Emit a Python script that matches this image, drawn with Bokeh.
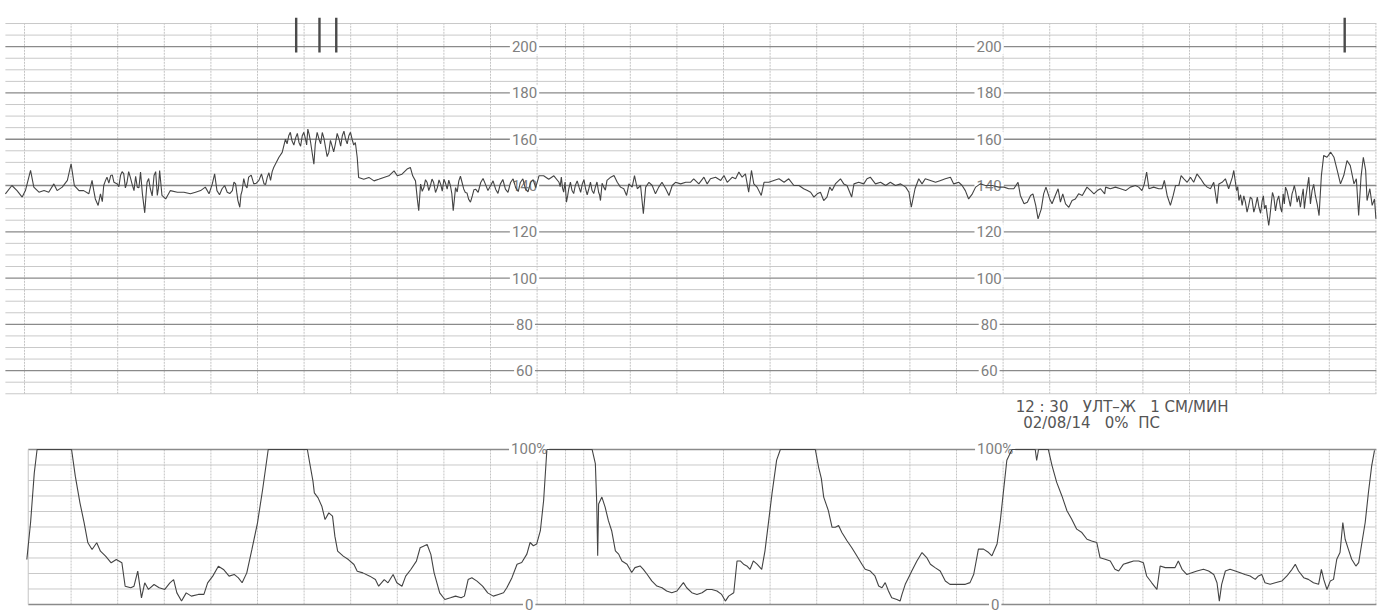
from bokeh.plotting import figure
from bokeh.layouts import column
from bokeh.models import Range1d, Label
from bokeh.core.properties import value
from bokeh.embed import file_html
from bokeh.resources import INLINE

# ---------------- data (time in minutes of paper, 1 cm/min) ----------------
fhr_min_a = [-0.41,-0.27,-0.16,-0.05,0.02,0.13,0.20,0.31,0.42,0.52,0.63,0.70,0.81,0.92,1.00,1.07,1.17,1.27,1.38,1.45,1.52,1.58,1.63,1.70,1.77,1.85,1.92,1.99,2.06,2.13,2.20,2.27,2.35,2.42,2.49,2.53,2.58,2.63,2.70,2.78,2.85,2.90,2.95,3.03,3.13,3.28,3.42,3.56,3.67,3.78,3.88,3.96,4.03,4.08,4.13,4.24,4.35,4.46,4.53,4.58,4.62,4.67,4.74,4.81,4.92,5.03,5.14,5.21,5.28,5.35,5.46]
fhr_bpm_a = [136.4,140,137.8,135.0,137.8,146.5,139.3,137.1,137.8,137.1,140.7,137.8,139.3,142.2,149.4,140,137.8,137.8,136.4,142.2,134.2,131.4,136.4,140,143.6,144.3,141.4,140.7,144.3,145.0,141.4,143.6,137.8,139.3,145.8,136.4,128.2,141.4,138.6,144.3,135.7,146.5,135.7,134.2,137.8,137.1,137.1,136.4,137.1,137.8,139.3,136.4,140.7,145.0,137.8,138.6,137.1,137.8,140.7,133.5,130.6,137.8,140,143.6,140.7,142.2,140.7,143.6,142.2,147.9,152.2]

fhr_min_b = [5.53,5.60,5.67,5.74,5.82,5.89,5.96,6.03,6.08,6.14,6.21,6.24,6.32,6.39,6.46,6.53,6.60,6.67,6.75,6.82,6.89,6.96,7.03,7.10,7.14,7.17,7.28,7.39,7.50,7.60,7.71,7.82,7.93,8.00,8.10,8.21,8.28,8.33,8.39,8.43,8.46,8.50,8.57,8.64,8.71,8.78,8.86,8.93,9.00,9.07,9.14,9.20,9.25,9.32,9.39,9.46,9.53,9.61,9.68,9.79,9.89,10.00,10.11,10.21,10.32,10.43,10.54,10.64,10.75,10.86,10.97,11.04,11.14,11.25,11.36]
fhr_bpm_b = [154.3,160.0,161.5,159.3,160.7,158.6,161.5,160.0,164.4,158.6,149.2,157.9,160.0,162.9,156.4,154.3,157.1,157.9,160.0,161.5,160.0,161.5,160.0,158.6,152.1,143.5,142.7,143.5,142.0,142.7,143.5,144.2,146.3,144.2,144.9,147.1,147.8,144.2,142.0,134.1,129.1,140.6,139.1,141.3,139.9,141.3,139.1,140.6,142.7,138.4,139.9,129.1,139.1,142.0,141.3,137.0,134.1,135.5,138.4,141.3,140.6,139.9,138.4,140.6,138.4,141.3,139.1,141.3,138.4,141.3,139.1,144.2,144.2,142.7,144.2]

fhr_min_c = [11.47,11.52,11.57,11.63,11.68,11.75,11.82,11.90,11.97,12.04,12.11,12.18,12.25,12.32,12.36,12.43,12.50,12.58,12.65,12.72,12.79,12.86,12.92,12.97,13.04,13.09,13.15,13.22,13.28,13.33,13.40,13.47,13.54,13.61,13.68,13.76,13.83,13.90,13.97,14.08,14.19,14.29,14.36,14.47,14.58,14.65,14.72,14.83,14.94,15.01,15.08,15.19,15.26,15.33,15.40,15.47,15.54,15.60,15.65,15.72,15.81,15.87,15.97,16.08,16.19,16.30,16.40,16.51,16.62,16.72,16.80,16.87,16.94,17.01,17.08,17.15,17.22,17.28]
fhr_bpm_c = [141.4,143.6,137.1,132.8,138.6,137.8,140.0,139.3,140.7,138.6,138.6,137.8,139.3,137.1,133.5,139.3,142.2,143.6,144.3,141.4,139.3,138.6,135.7,140.7,139.3,144.3,138.6,140.0,127.8,139.3,141.4,140.0,136.4,139.3,141.4,138.6,135.7,140.0,141.4,140.7,141.4,141.4,142.9,140.7,143.6,140.7,142.9,143.6,142.2,144.3,141.4,143.6,142.9,145.8,143.6,145.0,137.1,146.5,140.7,139.3,135.7,141.4,141.4,142.2,142.9,141.4,142.9,140.0,140.0,138.6,137.8,137.1,135.0,136.4,137.1,133.5,135.0,139.3]

fhr_min_d = [17.33,17.40,17.51,17.58,17.65,17.75,17.80,17.90,18.01,18.08,18.15,18.26,18.37,18.48,18.58,18.69,18.80,18.91,18.98,19.03,19.11,19.19,19.26,19.33,19.44,19.55,19.66,19.76,19.87,19.94,20.05,20.12,20.19,20.26,20.34,20.41,20.51,20.62,20.77,20.91,21.02,21.12,21.23,21.32,21.37,21.45,21.52,21.59,21.64,21.70,21.75,21.82,21.87,21.92,22.00,22.05,22.12,22.18,22.23,22.28,22.34,22.41,22.48,22.55,22.62,22.70,22.80,22.88,22.95,23.02,23.09,23.18]
fhr_bpm_d = [137.8,140.7,142.9,140.7,140.0,135.0,140.7,141.4,140.7,142.9,143.6,140.7,141.4,140.0,141.4,140.0,140.7,139.3,137.1,130.6,138.6,142.9,140.7,142.9,142.2,141.4,142.2,142.9,143.6,140.7,141.4,140.0,137.8,134.2,136.4,139.3,140.7,140.0,140.0,139.3,139.3,138.6,138.6,141.4,135.7,132.1,132.8,135.7,136.4,131.4,125.6,129.9,136.4,139.3,134.2,132.1,135.7,138.6,132.8,136.4,132.1,130.6,133.5,134.2,136.4,135.7,139.3,137.8,136.4,137.8,138.6,136.4]

fhr_min_e = [23.20,23.30,23.41,23.52,23.63,23.73,23.84,23.91,23.98,24.03,24.08,24.13,24.23,24.34,24.41,24.46,24.52,24.59,24.65,24.70,24.77,24.82,24.88,24.95,25.02,25.09,25.16,25.24,25.31,25.38,25.45,25.52,25.59,25.63,25.70,25.77,25.84,25.92,25.95,26.01,26.06,26.13,26.20,26.27,26.34,26.42,26.49,26.56,26.61,26.67,26.70,26.75,26.81,26.88,26.95,27.01,27.06,27.13,27.20,27.25,27.31,27.38,27.44,27.49,27.56,27.63,27.70,27.78,27.83,27.88,27.95,28.03,28.10,28.17,28.24,28.31,28.38,28.45,28.53,28.58,28.63,28.68,28.73,28.78,28.81,28.87,28.92,28.97,29.00]
fhr_bpm_e = [139.3,138.6,139.3,138.6,137.8,139.3,140.0,139.3,137.8,140.7,145.8,138.6,139.3,138.6,138.6,142.2,135.7,131.4,135.7,140.0,140.0,144.3,142.9,141.4,143.6,141.4,145.0,142.9,140.7,139.3,138.6,141.4,132.1,140.7,141.4,142.9,138.6,143.6,146.5,137.8,133.5,131.4,132.8,131.4,134.2,131.4,130.6,133.5,129.9,127.0,122.7,131.4,135.0,133.5,130.6,136.4,139.3,134.2,136.4,140.0,132.8,130.6,138.6,134.2,143.6,137.8,135.7,127.0,144.3,153.0,152.2,154.4,152.2,146.5,140.7,144.3,150.8,148.6,140.7,142.9,127.0,143.6,152.2,146.5,133.5,138.6,131.4,134.2,125.6]

# short-term variability read between the main samples (dense parts of the trace)
fhr_jit_min = [1.485,1.67,1.735,1.81,1.885,2.025,2.095,2.165,2.235,2.31,2.385,2.455,2.605,2.665,2.74,2.815,2.875,
               4.185,4.295,4.405,4.495,4.555,4.645,4.705,4.775,4.865,4.975,5.085,5.175,5.245,5.315,5.405,
               5.635,5.705,5.78,5.855,5.925,5.995,6.055,6.11,6.28,6.355,6.425,6.495,6.565,6.635,6.71,6.785,6.855,6.925,6.995,7.065,
               8.535,8.605,8.675,8.745,8.82,8.895,8.965,9.035,9.105,9.17,9.285,9.355,9.425,9.495,9.57,9.645,9.735,9.84,9.945,10.055,10.16,10.265,10.375,10.485,10.595,10.695,10.805,10.915,
               11.495,11.545,11.60,11.655,11.715,11.785,11.86,11.935,12.005,12.075,12.145,12.215,12.285,12.34,12.395,12.465,
               26.035,26.095,26.165,26.235,26.305,26.38,26.455,26.525,26.585,26.64,26.725,26.78,26.845,26.915,26.98,27.035,27.095,27.165,27.225,27.28,27.345,27.41,27.465,27.525,27.595,27.665,27.74]
fhr_jit_bpm = [138.0,133.0,142.0,141.0,144.5,139.5,146.0,139.0,146.0,140.5,144.0,139.0,135.0,143.0,135.5,146.0,139.0,
               136.0,140.0,136.5,141.5,137.0,136.0,143.0,139.0,144.5,141.0,145.0,140.5,145.5,146.0,150.0,
               158.0,163.0,157.5,162.5,157.0,163.0,157.5,162.0,163.0,158.0,160.5,152.5,159.5,154.5,162.5,157.0,163.5,158.0,163.0,157.5,
               137.5,142.5,137.8,142.8,137.0,142.4,137.6,141.0,142.3,136.5,137.2,144.0,138.5,136.8,132.8,138.2,137.0,143.0,137.8,142.0,136.6,142.6,137.0,142.9,137.4,142.9,137.3,142.5,
               139.5,139.0,141.5,135.5,141.5,136.5,142.0,137.0,142.5,136.0,141.5,136.5,141.5,136.0,141.0,138.0,
               139.5,136.0,135.5,128.5,135.0,128.5,135.0,128.0,135.5,131.5,126.5,137.0,129.0,135.5,128.5,132.0,137.5,131.0,138.0,137.0,135.5,135.0,130.0,139.0,132.0,140.5,132.0]

toco_min_a = [0.05,0.13,0.21,0.27,1.01,1.09,1.19,1.28,1.36,1.45,1.55,1.63,1.74,1.86,1.97,2.09,2.16,2.28,2.35,2.43,2.51,2.58,2.66,2.78,2.89,3.01,3.12,3.20,3.27,3.37,3.47,3.58,3.73,3.85,3.93,4.04,4.16,4.27,4.39,4.50,4.59,4.67,4.77,4.88,5.00,5.11,5.23,6.07,6.12,6.19,6.22,6.30,6.38,6.45,6.53,6.61,6.66,6.72,6.84,6.95,7.07,7.14,7.26,7.41,7.53,7.60,7.72,7.80,7.91,7.99,8.10,8.18,8.29,8.41,8.49,8.56,8.64,8.72,8.79,8.91,9.02,9.14,9.25,9.37,9.44,9.52,9.60,9.71,9.83,9.94,10.06,10.17]
toco_pct_a = [29.0,52.7,84.9,100,100,82.8,65.6,52.7,39.8,35.5,39.8,34.4,31.2,26.9,29.0,26.9,11.8,10.8,11.8,21.5,4.3,14.0,9.7,12.9,10.8,9.7,14.0,16.1,7.5,2.2,7.5,5.4,6.5,6.5,14.0,18.3,24.7,22.6,18.3,19.4,17.2,14.0,20.4,35.5,52.7,74.2,100,100,91.4,79.6,72.0,68.8,63.4,54.8,59.1,57.0,44.1,34.4,31.2,29.0,25.8,21.5,20.4,18.3,16.1,11.8,16.1,14.0,19.4,14.0,11.8,18.3,22.6,28.0,36.6,37.6,38.7,32.3,20.4,7.5,3.2,4.3,5.4,4.3,5.4,16.1,17.2,15.1,11.8,7.5,5.4,6.5]

toco_min_b = [10.28,10.35,10.46,10.57,10.67,10.78,10.85,10.92,10.99,11.07,11.14,11.21,12.18,12.25,12.28,12.30,12.32,12.39,12.46,12.53,12.60,12.68,12.75,12.82,12.93,13.03,13.10,13.21,13.28,13.36,13.46,13.57,13.68,13.78,13.89,14.00,14.11,14.14,14.21,14.32,14.43,14.54,14.64,14.75,14.86,14.96,15.04,15.11,15.22,15.29,15.36,15.43,15.50,15.57,15.64,15.72,15.82,15.89,15.97,16.04,16.14,16.22,16.97,17.04,17.10,17.15,17.25,17.33,17.40,17.47,17.54,17.65,17.75,17.86,17.97,18.04,18.15,18.25,18.33,18.40,18.47,18.54,18.61,18.72,18.79,18.83,18.90,18.97,19.04,19.15,19.26,19.36,19.44,19.54,19.65,19.76,19.86,19.97,20.08,20.19,20.29,20.37,20.47,20.58,20.69,20.76,20.87,20.94,21.01,21.08]
toco_pct_b = [7.6,10.8,17.3,26.0,27.1,32.5,40.0,37.9,39.0,47.6,67.1,100,100,90.9,64.9,31.4,64.9,69.3,62.8,54.1,47.6,34.6,32.5,28.1,26.0,20.6,23.8,24.9,22.7,19.5,15.2,11.9,10.8,8.7,7.6,8.7,13.0,14.1,10.8,7.6,6.5,7.6,9.7,9.7,8.7,6.5,2.2,5.4,7.6,28.1,28.1,26.0,24.9,22.7,28.1,26.0,22.7,34.6,54.1,71.4,93.1,100,100,88.7,81.2,69.3,60.6,49.8,49.8,50.9,46.5,41.1,36.8,31.4,26.0,22.7,21.6,18.4,11.9,10.8,14.1,8.7,4.3,3.2,2.2,6.5,13.0,17.3,21.6,28.1,33.5,30.3,26.0,23.8,21.6,15.2,13.0,13.0,13.0,13.0,14.1,19.5,35.7,35.7,33.5,31.4,39.0,54.1,73.6,93.1]

toco_min_c = [21.19,21.69,21.72,21.76,21.97,22.05,22.15,22.26,22.37,22.47,22.58,22.69,22.80,22.90,23.01,23.08,23.19,23.30,23.40,23.48,23.58,23.69,23.80,23.91,24.01,24.08,24.19,24.30,24.37,24.48,24.59,24.69,24.76,24.84,24.94,25.05,25.16,25.30,25.41,25.52,25.59,25.64,25.69,25.77,25.87,25.98,26.09,26.19,26.30,26.41,26.48,26.55,26.62,26.73,26.84,26.98,27.09,27.20,27.27,27.34,27.45,27.55,27.66,27.77,27.83,27.88,27.95,28.02,28.09,28.16,28.23,28.29,28.34,28.41,28.48,28.57,28.63,28.70,28.77,28.84,28.91,28.97]
toco_pct_c = [100,100,92.9,100,100,89.6,78.8,70.2,60.5,55.1,48.6,46.4,42.1,41.0,40.0,30.2,29.2,28.1,22.7,21.6,25.9,27.0,28.1,28.1,27.0,18.4,14.0,9.7,24.8,23.8,23.8,23.8,28.1,22.7,19.4,20.5,21.6,22.7,21.6,19.4,14.0,2.2,13.0,21.6,22.7,21.6,20.5,19.4,18.4,16.2,18.4,19.4,14.0,13.0,14.0,15.1,18.4,22.7,25.9,21.6,17.3,16.2,14.0,13.0,22.7,16.2,9.7,15.1,16.2,29.2,33.5,52.9,42.1,35.6,29.2,24.8,27.0,40.0,52.9,72.4,89.6,99.4]

event_minutes = [5.83, 6.33, 6.69, 28.33]

fhr_scale = [200, 180, 160, 140, 120, 100, 80, 60]
toco_scale = ["100%", "0"]
toco_scale_values = [100, 0]
scale_columns = [10.73, 20.70]          # minutes where the printed scale sits
toco_scale_columns = [10.83, 20.83]
header_line1 = "12 : 30\u00a0\u00a0 УЛТ–Ж\u00a0\u00a0 1 СМ/МИН"
header_line2 = "02/08/14\u00a0\u00a0 0%\u00a0 ПС"
minutes_grid = list(range(0, 30))
page_edges = [11.61, 26.57]

# ---------------- assemble ----------------
fhr_pairs = sorted(zip(fhr_min_a + fhr_min_b + fhr_min_c + fhr_min_d + fhr_min_e + fhr_jit_min,
                       fhr_bpm_a + fhr_bpm_b + fhr_bpm_c + fhr_bpm_d + fhr_bpm_e + fhr_jit_bpm))
assert len(fhr_jit_min) == len(fhr_jit_bpm)
assert len(fhr_min_a) == len(fhr_bpm_a) and len(fhr_min_e) == len(fhr_bpm_e)
fhr_t = [p[0] for p in fhr_pairs]
fhr_v = [p[1] for p in fhr_pairs]
toco_t = toco_min_a + toco_min_b + toco_min_c
toco_v = toco_pct_a + toco_pct_b + toco_pct_c
assert len(toco_t) == len(toco_v)

X0, X1 = -0.515, 29.356
PAPER_L, PAPER_R = -0.41, 29.01
TOCO_L = 0.08

MAJOR = "#8a8a8a"
MINOR = "#c9c9c9"
VERT = "#c4c4c4"
TRACE = "#444444"
LABEL = "#808080"

xr = Range1d(X0, X1)

def base_fig(h, yr):
    f = figure(width=1392, height=h, x_range=xr, y_range=yr,
               output_backend="svg", toolbar_location=None,
               x_axis_type=None, y_axis_type=None, min_border=0,
               outline_line_color=None, background_fill_color="white",
               border_fill_color="white")
    return f

# ---------- FHR panel ----------
top = base_fig(396, Range1d(48.82, 219.95))

minor_bpm = [v for v in range(50, 211, 5) if v not in fhr_scale]
top.segment(x0=[PAPER_L] * len(minor_bpm), y0=minor_bpm, x1=[PAPER_R] * len(minor_bpm),
            y1=minor_bpm, line_color=MINOR, line_width=1)
vx = minutes_grid + page_edges
top.segment(x0=vx, y0=[50] * len(vx), x1=vx, y1=[210] * len(vx),
            line_color=VERT, line_width=1, line_dash="2 1")
top.segment(x0=[PAPER_L] * len(fhr_scale), y0=fhr_scale, x1=[PAPER_R] * len(fhr_scale),
            y1=fhr_scale, line_color=MAJOR, line_width=1.3)

lx = [c for c in scale_columns for _ in fhr_scale]
ly = [v for _ in scale_columns for v in fhr_scale]
lt = [str(v) for _ in scale_columns for v in fhr_scale]
top.text(x=lx, y=ly, text=lt, text_align="center", text_baseline="middle",
         text_font=value("Roboto"), text_font_size="15px", text_color=LABEL,
         background_fill_color="white", padding=2)

top.line(fhr_t, fhr_v, line_color=TRACE, line_width=1.1)
top.segment(x0=event_minutes, y0=[197.5] * len(event_minutes), x1=event_minutes,
            y1=[212.5] * len(event_minutes), line_color="#4a4a4a", line_width=2.4)

# ---------- TOCO panel ----------
bot = base_fig(217, Range1d(-5.81, 134.19))

minor_pct = list(range(10, 100, 10))
bot.segment(x0=[TOCO_L] * len(minor_pct), y0=minor_pct, x1=[PAPER_R] * len(minor_pct),
            y1=minor_pct, line_color=MINOR, line_width=1)
tv = minutes_grid[1:] + page_edges
bot.segment(x0=tv, y0=[0] * len(tv), x1=tv, y1=[100] * len(tv),
            line_color=VERT, line_width=1, line_dash="2 1")
bot.segment(x0=[TOCO_L, TOCO_L], y0=toco_scale_values, x1=[PAPER_R, PAPER_R],
            y1=toco_scale_values, line_color=MAJOR, line_width=1.3)
bot.segment(x0=[TOCO_L], y0=[0], x1=[TOCO_L], y1=[100], line_color=VERT, line_width=1)

tx = [c for c in toco_scale_columns for _ in toco_scale]
ty = [v for _ in toco_scale_columns for v in toco_scale_values]
tt = [s for _ in toco_scale_columns for s in toco_scale]
bot.text(x=tx, y=ty, text=tt, text_align="center", text_baseline="middle",
         text_font=value("Roboto"), text_font_size="15px", text_color=LABEL,
         background_fill_color="white", padding=2)

bot.line(toco_t, toco_v, line_color=TRACE, line_width=1.1)

bot.add_layout(Label(x=21.27, y=127.7, text=header_line1, text_baseline="middle",
                     text_align="left", text_font="DejaVu Sans", text_font_size="15px",
                     text_color="#555555"))
bot.add_layout(Label(x=21.43, y=116.8, text=header_line2, text_baseline="middle",
                     text_align="left", text_font="DejaVu Sans", text_font_size="15px",
                     text_color="#555555"))

layout = column(top, bot, spacing=0)
open("out.html", "w").write(file_html(layout, INLINE))
